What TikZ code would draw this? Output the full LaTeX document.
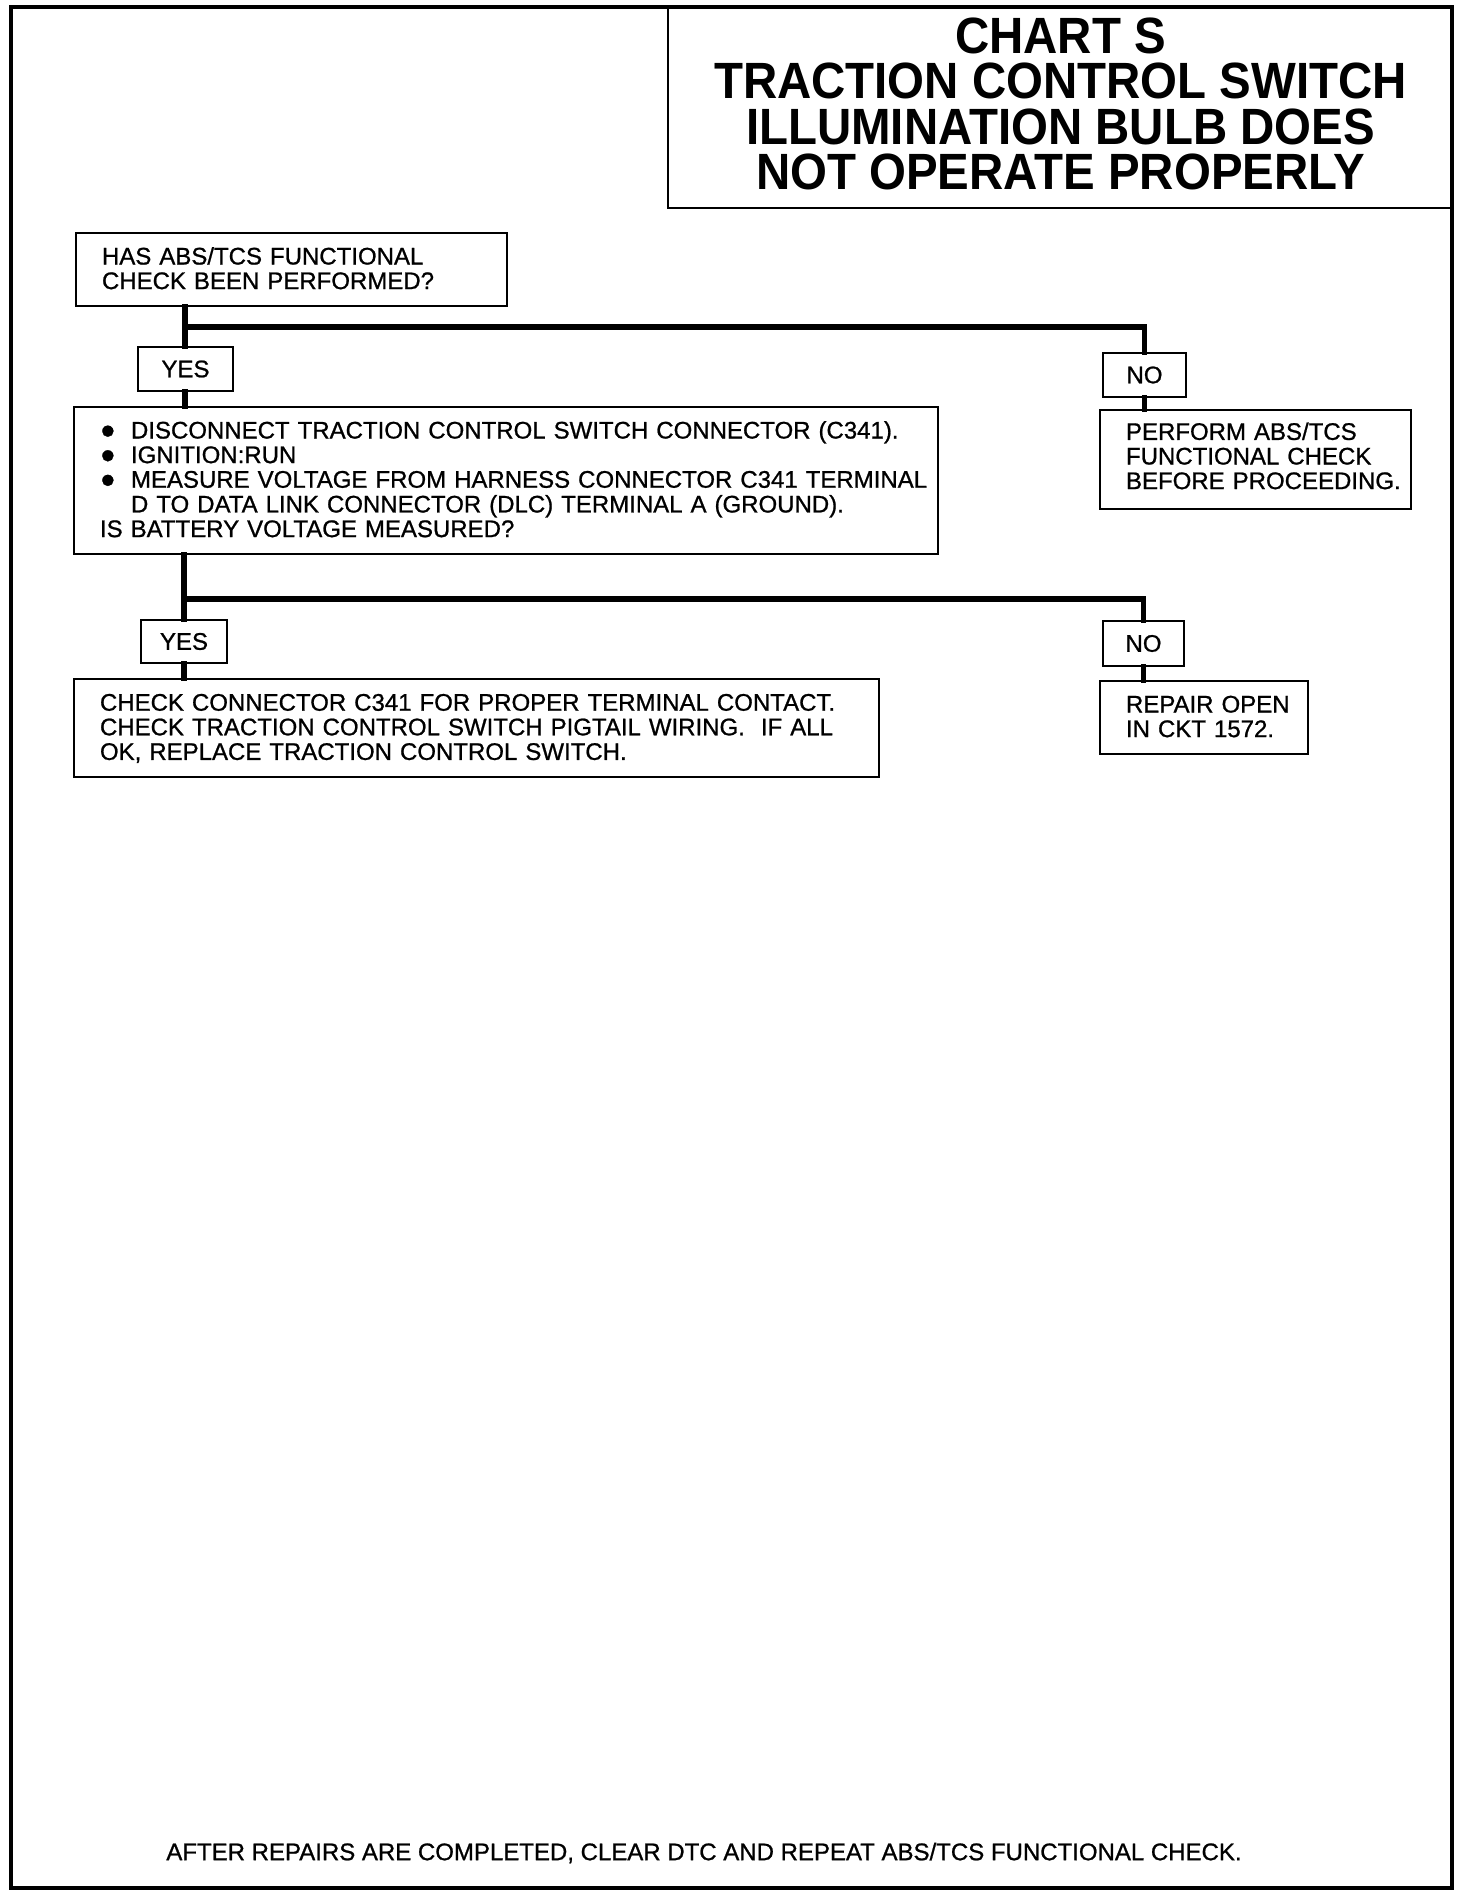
\documentclass[tikz,border=0pt]{standalone}
\usepackage{fontspec}
\setmainfont{Liberation Sans}[FakeBold=0.9]
\newfontfamily\titlefont{Liberation Sans}[FakeStretch=0.93]
\newcommand\mybul{\makebox[15.5pt][l]{\raisebox{0pt}{\fontsize{13}{13}\selectfont ●}}}
\newcommand\lines[1]{\begin{tabular}{@{}l@{}}\rule{0pt}{11pt}#1\end{tabular}}
\newcommand\linesb[1]{\begin{tabular}{@{}l@{}}#1\end{tabular}}
\begin{document}
\begin{tikzpicture}[x=0.5pt,y=-0.5pt,
  frameline/.style={line width=1.9pt},
  box/.style={draw, line width=1pt, anchor=north west, align=left, inner xsep=13pt, inner ysep=0pt,
    font=\fontsize{12}{12.3}\selectfont},
  lab/.style={draw, line width=1pt, anchor=north west, inner sep=0pt, align=center,
    font=\fontsize{12}{12}\selectfont},
  conn/.style={line width=2.75pt, line join=miter, line cap=rect},
  titlebox/.style={draw, line width=1pt, anchor=north west, inner sep=0pt},
  titletext/.style={align=center, inner sep=0pt,
    font=\titlefont\bfseries\fontsize{25.5}{22.7}\selectfont},
  note/.style={font=\fontsize{12}{12}\selectfont, anchor=center}]
\useasboundingbox (0,0) rectangle (1472,1898);
% outer frame
\draw[frameline] (11,7) rectangle (1452,1888);
% title
\node[titlebox, minimum width=392.5pt, minimum height=100pt] (title) at (667,7) {};
\node[titletext] (ttext) at ([yshift=2pt]title.center)
  {CHART S\\TRACTION CONTROL SWITCH\\ILLUMINATION BULB DOES\\NOT OPERATE PROPERLY};
% boxes
\node[box, minimum width=215.5pt, minimum height=36.5pt, text width=189.5pt] (b1) at (75,232)
  {\lines{HAS ABS/TCS FUNCTIONAL\\CHECK BEEN PERFORMED?}};
\node[lab, minimum width=47.5pt, minimum height=22pt] (yes1) at (137,346) {YES};
\node[lab, minimum width=41.5pt, minimum height=22pt] (no1) at (1102,352) {NO};
\node[box, minimum width=432pt, minimum height=73.5pt, text width=406pt] (b2) at (73,406)
  {\lines{\mybul DISCONNECT TRACTION CONTROL SWITCH CONNECTOR (C341).\\
   \mybul IGNITION:RUN\\
   \mybul MEASURE VOLTAGE FROM HARNESS CONNECTOR C341 TERMINAL\\
   \hspace*{15.5pt}D TO DATA LINK CONNECTOR (DLC) TERMINAL A (GROUND).\\
   IS BATTERY VOLTAGE MEASURED?}};
\node[box, minimum width=155.5pt, minimum height=49.5pt, text width=129.5pt] (b3) at (1099,409)
  {\linesb{PERFORM ABS/TCS\\FUNCTIONAL CHECK\\BEFORE PROCEEDING.}};
\node[lab, minimum width=43pt, minimum height=21.5pt] (yes2) at (140,619) {YES};
\node[lab, minimum width=40.5pt, minimum height=22.5pt] (no2) at (1102,620) {NO};
\node[box, minimum width=402.5pt, minimum height=49pt, text width=376.5pt] (b4) at (73,678)
  {\lines{CHECK CONNECTOR C341 FOR PROPER TERMINAL CONTACT.\\
   CHECK TRACTION CONTROL SWITCH PIGTAIL WIRING.\ \ IF ALL\\
   OK, REPLACE TRACTION CONTROL SWITCH.}};
\node[box, minimum width=104pt, minimum height=36.5pt, text width=78pt] (b5) at (1099,680)
  {\lines{REPAIR OPEN\\IN CKT 1572.}};
\node[note] (foot) at (704,1853)
  {AFTER REPAIRS ARE COMPLETED, CLEAR DTC AND REPEAT ABS/TCS FUNCTIONAL CHECK.};
% junctions
\coordinate (j1) at (185,327);
\coordinate (j2) at (184,599);
% connectors
\draw[conn] (b1.south -| j1) -- (yes1.north -| j1);
\draw[conn] (yes1.south -| j1) -- (b2.north -| j1);
\draw[conn] (j1) -| (no1.north);
\draw[conn] (no1.south) -- (b3.north -| no1.south);
\draw[conn] (b2.south -| j2) -- (yes2.north -| j2);
\draw[conn] (yes2.south -| j2) -- (b4.north -| j2);
\draw[conn] (j2) -| (no2.north);
\draw[conn] (no2.south) -- (b5.north -| no2.south);
\end{tikzpicture}
\end{document}
